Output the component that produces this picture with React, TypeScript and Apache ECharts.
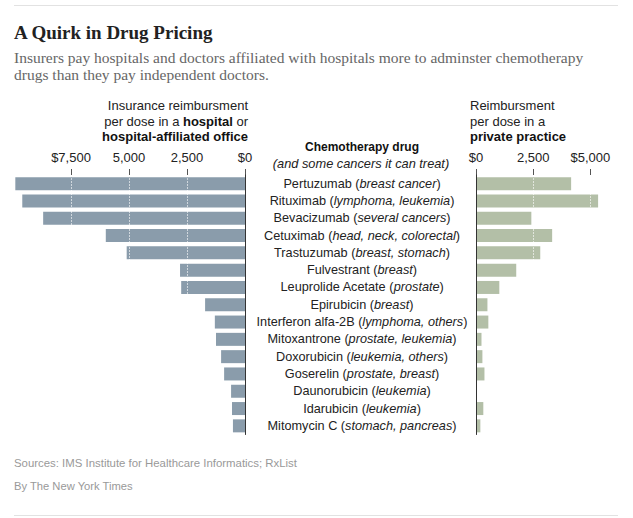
import React, { useEffect, useRef } from "react";
import * as echarts from "echarts";

const drugNames = [
  "Pertuzumab", "Rituximab", "Bevacizumab", "Cetuximab", "Trastuzumab",
  "Fulvestrant", "Leuprolide Acetate", "Epirubicin", "Interferon alfa-2B",
  "Mitoxantrone", "Doxorubicin", "Goserelin", "Daunorubicin", "Idarubicin", "Mitomycin C",
];
const drugUses = [
  "breast cancer", "lymphoma, leukemia", "several cancers", "head, neck, colorectal",
  "breast, stomach", "breast", "prostate", "breast", "lymphoma, others",
  "prostate, leukemia", "leukemia, others", "prostate, breast", "leukemia", "leukemia",
  "stomach, pancreas",
];
const hospitalValues = [9900, 9600, 8700, 6000, 5100, 2800, 2750, 1720, 1300, 1250, 1030, 900, 600, 560, 520];
const privateValues = [4160, 5340, 2420, 3330, 2810, 1760, 1020, 500, 540, 240, 280, 370, 0, 320, 190];
const leftTicks = [0, 2500, 5000, 7500];
const leftTickLabels = ["$0", "2,500", "5,000", "$7,500"];
const rightTicks = [0, 2500, 5000];
const rightTickLabels = ["$0", "2,500", "$5,000"];

const SANS = "'Liberation Sans', Arial, sans-serif";
const SERIF = "'Liberation Serif', 'Times New Roman', serif";

export default function App() {
  const ref = useRef<HTMLDivElement>(null);
  useEffect(() => {
    document.body.style.margin = "0";
    const chart = echarts.init(ref.current!, undefined, { renderer: "svg" });
    const top = 175;
    const rowH = 17.3;
    const height = rowH * drugNames.length;
    const tickColor = "#555";
    const splitStyle = { color: "rgba(255,255,255,0.6)", width: 1, type: [2, 1] as any };
    const labelSize = 12.7;
    const hText = (text: string, x: number, y: number, align: string, extra: any = {}) => ({
      type: "text",
      silent: true,
      style: {
        text, x, y, textAlign: align, textVerticalAlign: "middle",
        fontFamily: SANS, fontSize: 13, fill: "#222",
        rich: { b: { fontFamily: SANS, fontSize: 13, fontWeight: "bold", fill: "#111" } },
        ...extra,
      },
    });
    chart.setOption({
      animation: false,
      grid: [
        { left: 13, top, width: 232, height },
        { left: 476, top, width: 137.2, height },
      ],
      xAxis: [
        {
          gridIndex: 0, type: "value", inverse: true, min: 0, max: 10000, interval: 2500,
          position: "top", z: 5,
          axisLine: { show: false },
          axisTick: { show: true, length: 6, customValues: leftTicks, lineStyle: { color: tickColor } },
          axisLabel: {
            customValues: leftTicks, margin: 11, fontFamily: SANS, fontSize: 13, color: "#222",
            formatter: (v: number) => leftTickLabels[leftTicks.indexOf(v)] ?? "",
          },
          splitLine: { show: true, lineStyle: splitStyle },
        },
        {
          gridIndex: 1, type: "value", min: 0, max: 6000, interval: 2500,
          position: "top", z: 5,
          axisLine: { show: false },
          axisTick: { show: true, length: 6, customValues: rightTicks, lineStyle: { color: tickColor } },
          axisLabel: {
            customValues: rightTicks, margin: 11, fontFamily: SANS, fontSize: 13, color: "#222",
            formatter: (v: number) => rightTickLabels[rightTicks.indexOf(v)] ?? "",
          },
          splitLine: { show: true, lineStyle: splitStyle },
        },
      ],
      yAxis: [
        {
          gridIndex: 0, type: "category", data: drugNames, inverse: true, position: "right", z: 6,
          axisLine: { show: true, lineStyle: { color: "#333", width: 1 } },
          axisTick: { show: false },
          axisLabel: {
            margin: 117, align: "center", fontFamily: SANS, fontSize: labelSize, color: "#222",
            formatter: (v: string, i: number) => `{n|${v} (}{i|${drugUses[i]}}{n|)}`,
            rich: {
              n: { fontFamily: SANS, fontSize: labelSize, color: "#222" },
              i: { fontFamily: SANS, fontSize: labelSize, fontStyle: "italic", color: "#222" },
            },
          },
        },
        {
          gridIndex: 1, type: "category", data: drugNames, inverse: true, position: "left", z: 6,
          axisLine: { show: true, lineStyle: { color: "#333", width: 1 } },
          axisTick: { show: false },
          axisLabel: { show: false },
        },
      ],
      series: [
        {
          type: "bar", xAxisIndex: 0, yAxisIndex: 0, data: hospitalValues, barWidth: 13,
          itemStyle: { color: "#8a9cab" }, silent: true,
        },
        {
          type: "bar", xAxisIndex: 1, yAxisIndex: 1, data: privateValues, barWidth: 13,
          itemStyle: { color: "#b3bfa7" }, silent: true,
        },
      ],
      graphic: [
        { type: "line", silent: true, shape: { x1: 14, y1: 5.5, x2: 618, y2: 5.5 }, style: { stroke: "#e2e2e2", lineWidth: 1 } },
        { type: "line", silent: true, shape: { x1: 14, y1: 515.5, x2: 618, y2: 515.5 }, style: { stroke: "#e2e2e2", lineWidth: 1 } },
        {
          type: "text", silent: true,
          style: { text: "A Quirk in Drug Pricing", x: 14, y: 32.5, textVerticalAlign: "middle", fontFamily: SERIF, fontSize: 19, fontWeight: "bold", fill: "#222" },
        },
        {
          type: "text", silent: true,
          style: { text: "Insurers pay hospitals and doctors affiliated with hospitals more to adminster chemotherapy", x: 14, y: 57.5, textVerticalAlign: "middle", fontFamily: SERIF, fontSize: 15.5, fill: "#666" },
        },
        {
          type: "text", silent: true,
          style: { text: "drugs than they pay independent doctors.", x: 14, y: 74.5, textVerticalAlign: "middle", fontFamily: SERIF, fontSize: 15.5, fill: "#666" },
        },
        hText("Insurance reimbursment", 248, 105, "right"),
        hText("per dose in a {b|hospital} or", 248, 121, "right"),
        hText("{b|hospital-affiliated office}", 248, 136, "right"),
        hText("Reimbursment", 470, 105, "left"),
        hText("per dose in a", 470, 121, "left"),
        hText("{b|private practice}", 470, 136, "left"),
        hText("Chemotherapy drug", 362, 147, "center", { fontSize: 12, fontWeight: "bold", fill: "#111" }),
        hText("(and some cancers it can treat)", 361, 163, "center", { fontSize: 12.8, fontStyle: "italic" }),
        {
          type: "text", silent: true,
          style: { text: "Sources: IMS Institute for Healthcare Informatics; RxList", x: 14, y: 463, textVerticalAlign: "middle", fontFamily: SANS, fontSize: 11.4, fill: "#999" },
        },
        {
          type: "text", silent: true,
          style: { text: "By The New York Times", x: 14, y: 486, textVerticalAlign: "middle", fontFamily: SANS, fontSize: 11.2, fill: "#999" },
        },
      ],
    });
    return () => chart.dispose();
  }, []);
  return <div ref={ref} style={{ width: 633, height: 518 }} />;
}
